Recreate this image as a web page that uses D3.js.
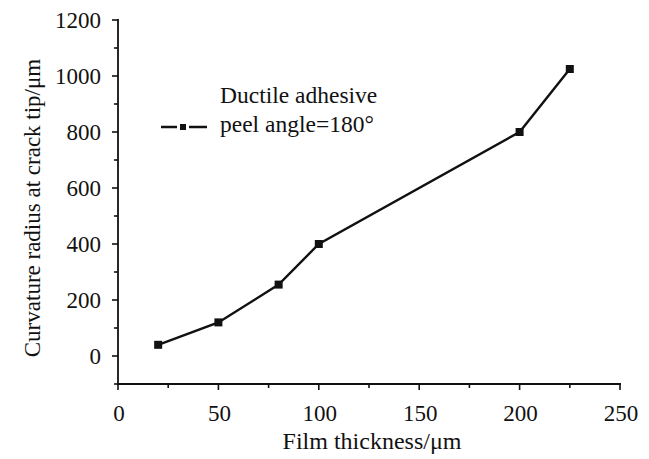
<!DOCTYPE html>
<html><head><meta charset="utf-8">
<script src="https://cdn.jsdelivr.net/npm/d3@7"></script>
<style>body{margin:0;background:#fff}</style>
</head><body>
<svg id="c" width="649" height="459" font-family="'Liberation Serif', 'Times New Roman', 'DejaVu Serif', serif"></svg>
<script>
const thickness = [20, 50, 80, 100, 200, 225];
const radius = [40, 120, 255, 400, 800, 1025];
const xTicks = [0, 50, 100, 150, 200, 250];
const yTicks = [0, 200, 400, 600, 800, 1000, 1200];
const legendLines = ["Ductile adhesive", "peel angle=180°"];

const svg = d3.select("#c");
const FF = "'Liberation Serif', 'Times New Roman', 'DejaVu Serif', serif";
const x = d3.scaleLinear().domain([0, 250]).range([118, 620]);
const y = d3.scaleLinear().domain([-100, 1200]).range([384, 20]);
const ink = "#111";
const txt = (g) => g.append("text").attr("font-family", FF).attr("fill", ink);

// x axis
const gx = svg.append("g").attr("transform", `translate(0,${y(-100)})`);
gx.append("line").attr("x1", x(0) - 1).attr("x2", x(250) + 1).attr("stroke", ink).attr("stroke-width", 1.8);
d3.range(0, 251, 25).forEach(v => {
  gx.append("line").attr("x1", x(v)).attr("x2", x(v)).attr("y1", 0).attr("y2", v % 50 === 0 ? 6 : 4)
    .attr("stroke", ink).attr("stroke-width", 1.6);
});
xTicks.forEach(v => txt(gx).attr("x", x(v) + 1).attr("y", 37).attr("text-anchor", "middle")
  .attr("font-size", 23).text(v));

// y axis
const gy = svg.append("g").attr("transform", `translate(${x(0)},0)`);
gy.append("line").attr("y1", y(-100) + 1).attr("y2", y(1200) - 1).attr("stroke", ink).attr("stroke-width", 1.8);
d3.range(-100, 1201, 100).forEach(v => {
  gy.append("line").attr("y1", y(v)).attr("y2", y(v)).attr("x1", 0).attr("x2", v % 200 === 0 ? -6 : -4)
    .attr("stroke", ink).attr("stroke-width", 1.6);
});
yTicks.forEach(v => txt(gy).attr("x", -17).attr("y", y(v)).attr("dy", "0.35em")
  .attr("text-anchor", "end").attr("font-size", 23).text(v));

// axis titles
txt(svg).attr("x", 372).attr("y", 449).attr("text-anchor", "middle").attr("font-size", 24)
  .text("Film thickness/μm");
txt(svg).attr("transform", `translate(40,208) rotate(-90)`).attr("text-anchor", "middle")
  .attr("font-size", 23).text("Curvature radius at crack tip/μm");

// series
const data = thickness.map((t, i) => ({t, r: radius[i]}));
svg.append("path").datum(data)
  .attr("d", d3.line().x(d => x(d.t)).y(d => y(d.r)))
  .attr("fill", "none").attr("stroke", ink).attr("stroke-width", 2.4);
svg.selectAll("rect.pt").data(data).join("rect").attr("class", "pt")
  .attr("x", d => x(d.t) - 4).attr("y", d => y(d.r) - 4).attr("width", 8).attr("height", 8).attr("fill", ink);

// legend
const lg = svg.append("g");
lg.append("line").attr("x1", 161).attr("x2", 207).attr("y1", 127).attr("y2", 127).attr("stroke", ink).attr("stroke-width", 2.4);
lg.append("rect").attr("x", 177).attr("y", 122).attr("width", 12).attr("height", 10).attr("fill", "#fff");
lg.append("rect").attr("x", 180).attr("y", 124).attr("width", 6).attr("height", 6).attr("fill", ink);
legendLines.forEach((s, i) => txt(lg).attr("x", 220).attr("y", 103 + i * 29).attr("font-size", 23.5).text(s));
</script>
</body></html>
